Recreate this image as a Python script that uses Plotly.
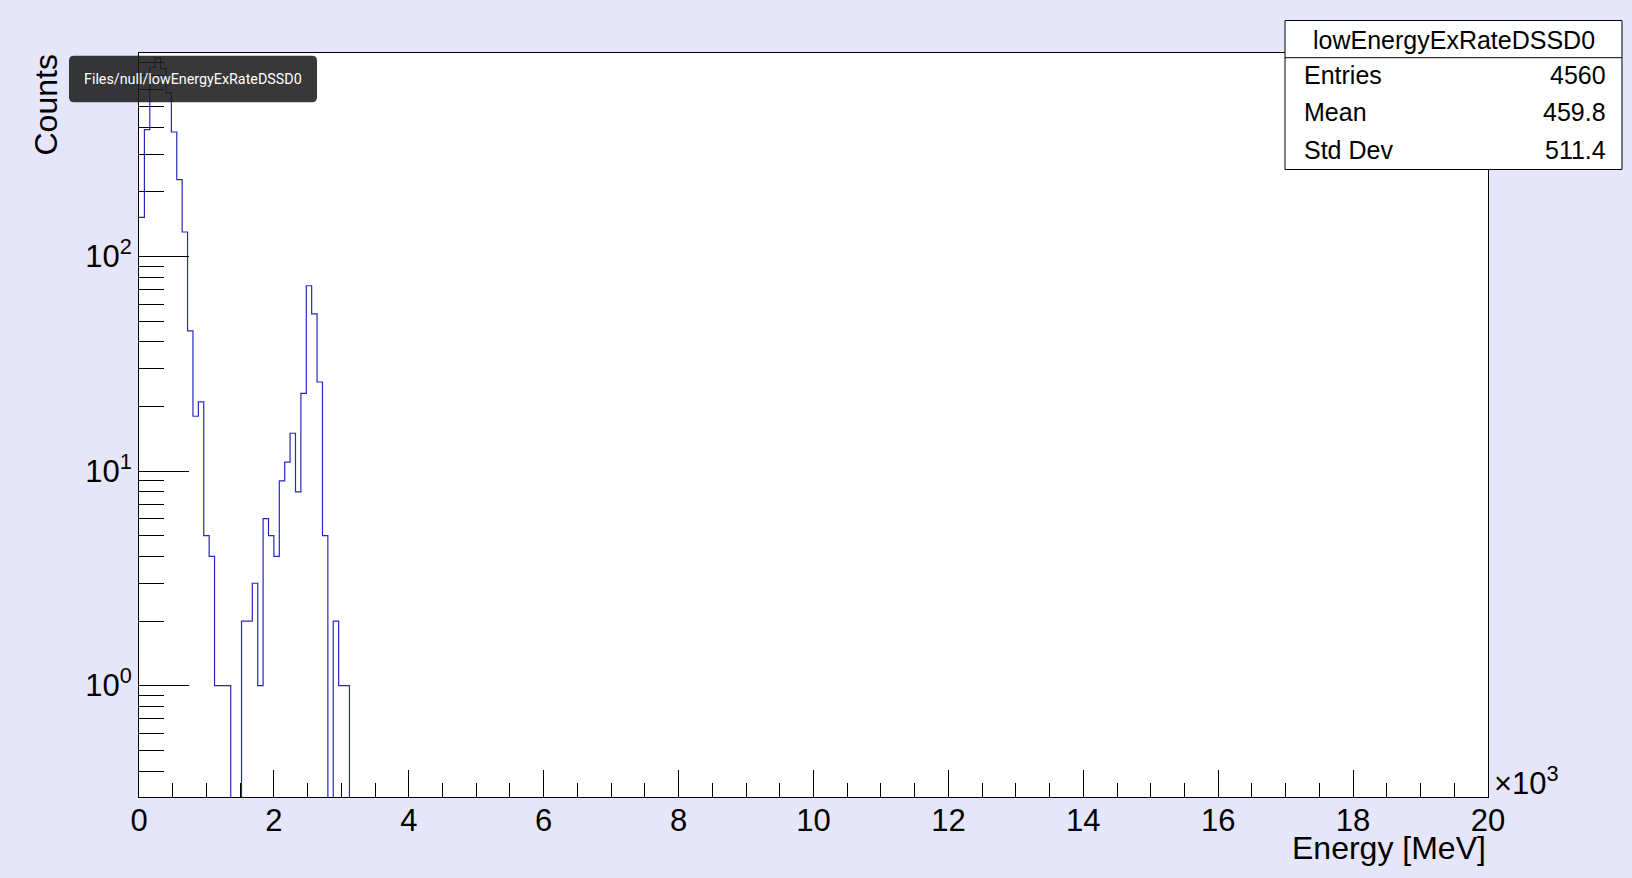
"""
lowEnergyExRateDSSD0 — log-scale energy histogram, ROOT/JSROOT style look.
"""

import plotly.graph_objects as go

# ── data ──────────────────────────────────────────────────────────────────────

HIST_NAME = "lowEnergyExRateDSSD0"
HIST_PATH = "Files/null/lowEnergyExRateDSSD0"

BIN_WIDTH = 80        # keV per bin
X_MAX     = 20000     # keV

# counts per bin, starting at 0 keV (bins beyond these are empty)
COUNTS = [
    152, 390, 760, 840, 750, 580, 380, 228, 130, 45,
    18,  21,  5,   4,   1,   1,   1,   0,   0,   2,
    2,   3,   1,   6,   5,   4,   9,   11,  15,  8,
    23,  73,  54,  26,  5,   0,   2,   1,   1,   0,
]

STATS_LABELS = ["Entries", "Mean", "Std Dev"]
STATS_VALUES = ["4560", "459.8", "511.4"]

X_TICK_VALS   = [0, 2000, 4000, 6000, 8000, 10000, 12000, 14000, 16000, 18000, 20000]
X_TICK_TEXT   = ["0", "2", "4", "6", "8", "10", "12", "14", "16", "18", "20"]
Y_TICK_VALS   = [1, 10, 100]
Y_TICK_TEXT   = ["10<sup>0</sup>", "10<sup>1</sup>", "10<sup>2</sup>"]

# ── layout helpers (pixel -> paper) ──────────────────────────────────────────

W, H = 1632, 878
PL, PR, PT, PB = 139, 1488, 53, 797      # plot frame in pixels

LINE_COLOR = "rgb(40,40,190)"
BG_COLOR   = "#E6E6FA"
FONT       = "Liberation Sans, Arial, sans-serif"


def px_x(x):
    return (x - PL) / (PR - PL)


def px_y(y):
    return (PB - y) / (PB - PT)


def rounded_rect(x0, y0, x1, y1, r):
    """SVG path in paper coords for a rounded rectangle given in pixels."""
    rx = r / (PR - PL)
    ry = r / (PB - PT)
    a, b = px_x(x0), px_x(x1)
    top, bot = px_y(y0), px_y(y1)
    return (
        f"M {a + rx} {top} L {b - rx} {top} Q {b} {top} {b} {top - ry} "
        f"L {b} {bot + ry} Q {b} {bot} {b - rx} {bot} "
        f"L {a + rx} {bot} Q {a} {bot} {a} {bot + ry} "
        f"L {a} {top - ry} Q {a} {top} {a + rx} {top} Z"
    )


# ── histogram trace ───────────────────────────────────────────────────────────

edges = [i * BIN_WIDTH for i in range(len(COUNTS) + 1)]
# empty bins drop below the log axis, like ROOT does
y_step = [c if c > 0 else 1e-3 for c in COUNTS] + [1e-3]

fig = go.Figure()
fig.add_trace(go.Scatter(
    x=edges,
    y=y_step,
    mode="lines",
    line=dict(color=LINE_COLOR, width=1.2, shape="hv"),
    hoverinfo="skip",
    showlegend=False,
))

# ── axes ──────────────────────────────────────────────────────────────────────

fig.update_xaxes(
    range=[0, X_MAX],
    tickmode="array",
    tickvals=X_TICK_VALS,
    ticktext=X_TICK_TEXT,
    ticks="inside",
    ticklen=27,
    tickcolor="black",
    ticklabelstandoff=-4,
    tickfont=dict(size=31, color="black", family=FONT),
    minor=dict(ticks="inside", ticklen=14, tick0=0, dtick=500, tickcolor="black", showgrid=False),
    showgrid=False,
    zeroline=False,
    showline=True,
    linecolor="black",
    linewidth=1,
    mirror=True,
)
fig.update_yaxes(
    type="log",
    range=[-0.519, 2.948],
    tickmode="array",
    tickvals=Y_TICK_VALS,
    ticktext=Y_TICK_TEXT,
    ticks="inside",
    ticklen=50,
    tickcolor="black",
    tickfont=dict(size=31, color="black", family=FONT),
    minor=dict(ticks="inside", ticklen=25, dtick="D1", tickcolor="black", showgrid=False),
    showgrid=False,
    zeroline=False,
    showline=True,
    linecolor="black",
    linewidth=1,
    mirror=True,
)

# ── stats box, titles, tooltip ───────────────────────────────────────────────

shapes = [
    dict(type="rect", xref="paper", yref="paper",
         x0=px_x(1285), x1=px_x(1622), y0=px_y(20.5), y1=px_y(169.5),
         fillcolor="white", line=dict(color="black", width=1), layer="above"),
    dict(type="line", xref="paper", yref="paper",
         x0=px_x(1285), x1=px_x(1622), y0=px_y(57.7), y1=px_y(57.7),
         line=dict(color="black", width=1), layer="above"),
    dict(type="path", xref="paper", yref="paper",
         path=rounded_rect(69, 55.7, 317, 102.3, 5),
         fillcolor="rgba(28,28,28,0.88)", line=dict(width=0), layer="above"),
]

annotations = [
    dict(text=HIST_NAME, x=px_x(1454), y=px_y(40), xref="paper", yref="paper",
         xanchor="center", yanchor="middle", showarrow=False,
         font=dict(size=25, color="black", family=FONT)),
    dict(text="Counts", x=px_x(45), y=px_y(53), xref="paper", yref="paper",
         xanchor="center", yanchor="top", textangle=-90, showarrow=False,
         font=dict(size=32, color="black", family=FONT)),
    dict(text="Energy [MeV]", x=1.0, y=px_y(848), xref="paper", yref="paper",
         xanchor="right", yanchor="middle", showarrow=False,
         font=dict(size=32, color="black", family=FONT)),
    dict(text="×10<sup>3</sup>", x=px_x(1492), y=px_y(781), xref="paper", yref="paper",
         xanchor="left", yanchor="middle", showarrow=False,
         font=dict(size=31, color="black", family=FONT)),
    dict(text=HIST_PATH, x=px_x(82), y=px_y(79), xref="paper", yref="paper",
         xanchor="left", yanchor="middle", showarrow=False,
         font=dict(size=14.3, color="white", family="Roboto, sans-serif")),
]

for i, (lab, val) in enumerate(zip(STATS_LABELS, STATS_VALUES)):
    row_y = px_y(75 + i * 37.5)
    annotations.append(dict(text=lab, x=px_x(1302), y=row_y, xref="paper", yref="paper",
                            xanchor="left", yanchor="middle", showarrow=False,
                            font=dict(size=25, color="black", family=FONT)))
    annotations.append(dict(text=val, x=px_x(1608), y=row_y, xref="paper", yref="paper",
                            xanchor="right", yanchor="middle", showarrow=False,
                            font=dict(size=25, color="black", family=FONT)))

fig.update_layout(
    width=W,
    height=H,
    margin=dict(l=PL, r=W - PR, t=PT, b=H - PB, pad=0),
    paper_bgcolor=BG_COLOR,
    plot_bgcolor="white",
    font=dict(family=FONT, color="black"),
    shapes=shapes,
    annotations=annotations,
    showlegend=False,
)

# page body margin off so the canvas fills the window like the original
fig.write_html(
    "out.html",
    config={"displayModeBar": False},
    post_script="document.body.style.margin='0';document.body.style.overflow='hidden';",
)
